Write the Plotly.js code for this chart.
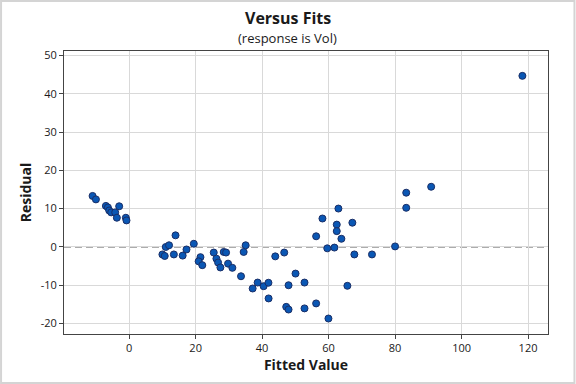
<!DOCTYPE html>
<html>
<head>
<meta charset="utf-8">
<script src="https://cdn.plot.ly/plotly-3.0.1.min.js"></script>
<style>
html,body{margin:0;padding:0;background:#fff;}
#chart{width:576px;height:384px;}
</style>
</head>
<body>
<div id="chart"></div>
<script>
const fittedValues = [
  -11.0, -10.0, -7.0, -6.4, -6.0, -5.4, -4.2, -3.0, -3.7, -1.0, -0.8,
  10.0, 10.7, 11.0, 12.0, 13.95, 13.45, 16.1, 17.25, 19.45,
  21.45, 20.9, 22.0, 25.45, 26.25, 26.75, 27.45, 28.45, 29.15, 29.75,
  31.05, 33.65, 34.45, 35.05, 43.95, 46.65, 59.6,
  38.65, 37.15, 40.45, 41.9, 41.95, 47.95, 50.05, 52.75,
  47.25, 47.95, 52.75, 56.25, 59.95,
  62.95, 58.15, 62.45, 67.15, 62.45, 56.25, 63.85, 61.75, 67.75, 73.05,
  80.0, 65.65, 90.85, 83.35, 83.35, 118.3
];
const residuals = [
  13.3, 12.4, 10.7, 10.3, 9.5, 9.0, 9.0, 10.6, 7.6, 7.6, 6.9,
  -2.0, -2.4, -0.05, 0.4, 3.0, -2.0, -2.3, -0.7, 0.8,
  -2.7, -3.8, -4.8, -1.5, -3.1, -4.1, -5.4, -1.35, -1.5, -4.4,
  -5.5, -7.7, -1.35, 0.4, -2.5, -1.5, -0.4,
  -9.35, -10.9, -10.3, -9.4, -13.5, -10.05, -7.0, -9.35,
  -15.7, -16.4, -16.1, -14.8, -18.75,
  10.0, 7.4, 5.8, 6.3, 4.1, 2.75, 2.1, -0.2, -2.0, -2.0,
  0.1, -10.2, 15.7, 14.15, 10.2, 44.7
];
const xTicks = [0, 20, 40, 60, 80, 100, 120];
const yTicks = [-20, -10, 0, 10, 20, 30, 40, 50];
const chartTitle = "Versus Fits";
const chartSubtitle = "(response is Vol)";
const xTitle = "Fitted Value";
const yTitle = "Residual";

const font = "'Open Sans', 'Noto Sans', sans-serif";

const trace = {
  x: fittedValues,
  y: residuals,
  type: 'scatter',
  mode: 'markers',
  marker: {size: 7, color: '#0a57b4', line: {color: '#1a2e66', width: 1}},
  hoverinfo: 'x+y',
  showlegend: false
};

const ml = 64, mr = 27.5, mt = 51, mb = 50;
const pw = 576 - ml - mr, ph = 384 - mt - mb;
const px = v => (v - ml) / pw;
const py = v => (384 - mb - v) / ph;

const layout = {
  width: 576, height: 384,
  margin: {l: ml, r: mr, t: mt, b: mb, pad: 0},
  paper_bgcolor: '#ffffff',
  plot_bgcolor: '#ffffff',
  font: {family: font, color: '#1a1a1a', size: 11},
  xaxis: {
    range: [-19.6, 126.0],
    tickvals: xTicks,
    ticktext: xTicks.map(String),
    showgrid: true, gridcolor: '#d9d9d9', gridwidth: 1,
    zeroline: false,
    showline: true, linecolor: '#444444', linewidth: 1, mirror: true,
    ticks: 'outside', ticklen: 4, tickcolor: '#444444',
    tickfont: {size: 11, color: '#1a1a1a'},
    title: {text: xTitle, font: {size: 14, family: font, color: '#1a1a1a', weight: 'bold'}, standoff: 3}
  },
  yaxis: {
    range: [-22.8, 51.2],
    tickvals: yTicks,
    ticktext: yTicks.map(String),
    showgrid: true, gridcolor: '#d9d9d9', gridwidth: 1,
    zeroline: false,
    showline: true, linecolor: '#444444', linewidth: 1, mirror: true,
    ticks: 'outside', ticklen: 4, tickcolor: '#444444',
    tickfont: {size: 11, color: '#1a1a1a'},
    title: {text: yTitle, font: {size: 14, family: font, color: '#1a1a1a', weight: 'bold'}, standoff: 5}
  },
  shapes: [
    {type: 'line', xref: 'paper', yref: 'y', x0: 0, x1: 1, y0: 0, y1: 0,
     line: {color: '#5a5a5a', width: 1.3, dash: '7px,4px'}, layer: 'below'},
    {type: 'rect', xref: 'paper', yref: 'paper',
     x0: px(1), x1: px(575), y0: py(383), y1: py(1),
     line: {color: '#d4d4d4', width: 2}, fillcolor: 'rgba(0,0,0,0)'}
  ],
  annotations: [
    {text: chartTitle, xref: 'paper', yref: 'paper', x: px(288), y: py(18),
     xanchor: 'center', yanchor: 'middle', showarrow: false,
     font: {size: 16, family: font, color: '#1a1a1a', weight: 'bold'}},
    {text: chartSubtitle, xref: 'paper', yref: 'paper', x: px(288), y: py(38),
     xanchor: 'center', yanchor: 'middle', showarrow: false,
     font: {size: 13, family: font, color: '#1a1a1a'}}
  ]
};

Plotly.newPlot('chart', [trace], layout, {displayModeBar: false, staticPlot: true});
</script>
</body>
</html>
